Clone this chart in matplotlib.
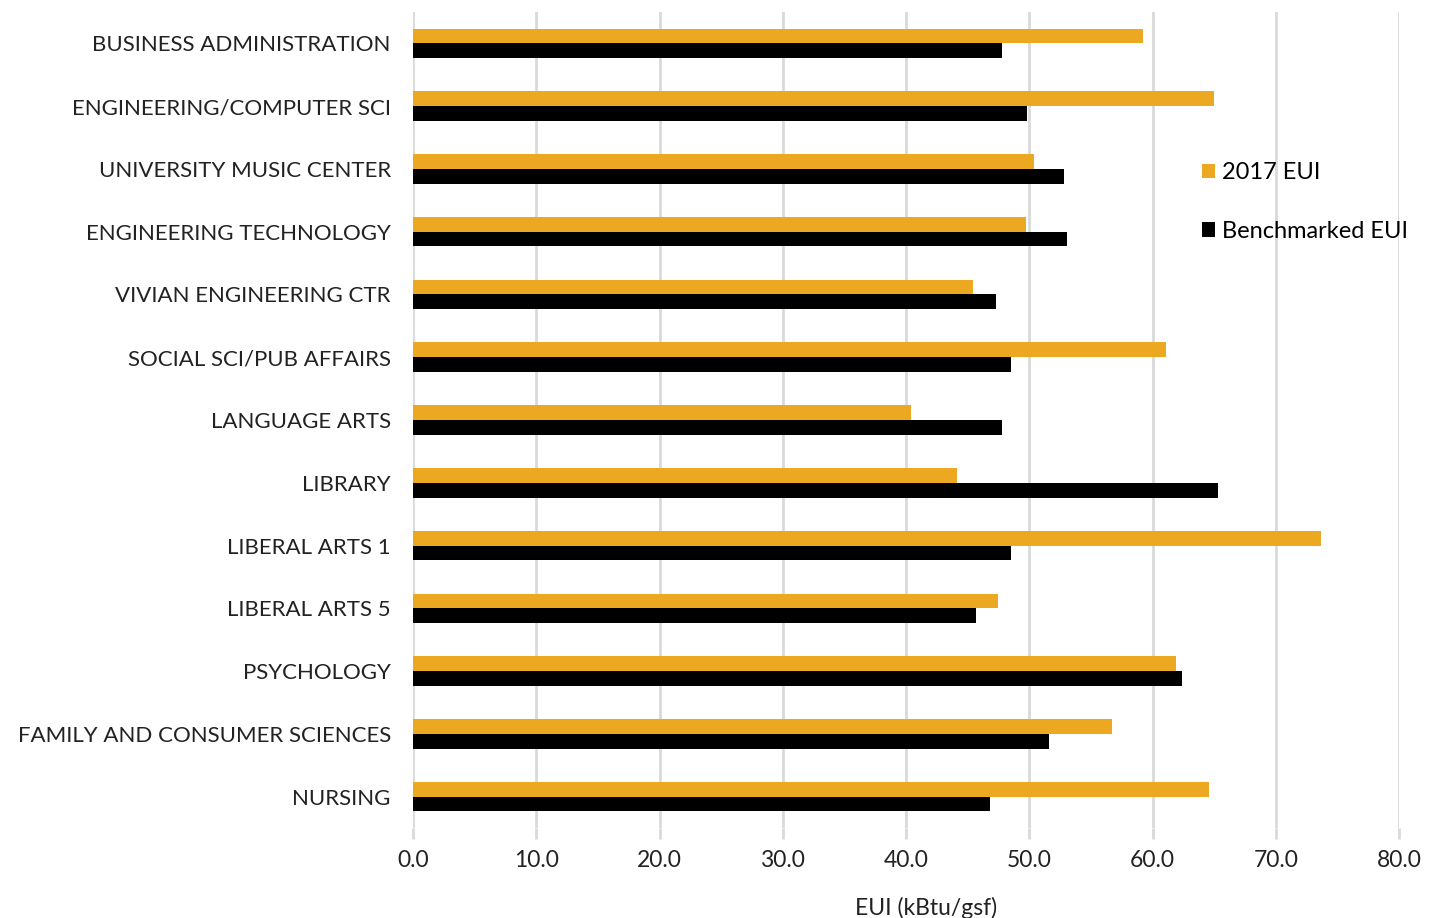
import matplotlib.pyplot as plt
import numpy as np

plt.rcParams['font.family'] = ['Lato', 'DejaVu Sans']

buildings = ['BUSINESS ADMINISTRATION', 'ENGINEERING/COMPUTER SCI', 'UNIVERSITY MUSIC CENTER',
             'ENGINEERING TECHNOLOGY', 'VIVIAN ENGINEERING CTR', 'SOCIAL SCI/PUB AFFAIRS',
             'LANGUAGE ARTS', 'LIBRARY', 'LIBERAL ARTS 1', 'LIBERAL ARTS 5', 'PSYCHOLOGY',
             'FAMILY AND CONSUMER SCIENCES', 'NURSING']
eui_2017 = [59.2, 65.0, 50.4, 49.7, 45.4, 61.1, 40.4, 44.1, 73.7, 47.5, 61.9, 56.7, 64.6]
eui_bench = [47.8, 49.8, 52.8, 53.1, 47.3, 48.5, 47.8, 65.3, 48.5, 45.7, 62.4, 51.6, 46.8]
xticks = [0, 10, 20, 30, 40, 50, 60, 70, 80]

fig = plt.figure(figsize=(14.41, 9.18), dpi=100)
ax = fig.add_axes([413 / 1441, 1 - 828 / 918, (1399 - 413) / 1441, (828 - 12) / 918])

y = np.arange(len(buildings))
h = 0.235
ax.barh(y - h / 2, eui_2017, height=h, color='#EBA820', label='2017 EUI', zorder=3)
ax.barh(y + h / 2, eui_bench, height=h, color='#000000', label='Benchmarked EUI', zorder=3)

ax.set_ylim(len(buildings) - 0.5, -0.5)
ax.set_xlim(0, 80)
ax.set_yticks(y)
ax.set_yticklabels(buildings, fontsize=16, color='#222222')
ax.set_xticks(xticks)
ax.set_xticklabels([f'{v:.1f}' for v in xticks], fontsize=16.5, color='#222222')
ax.tick_params(axis='y', length=0, pad=16)
ax.tick_params(axis='x', length=8, width=2, color='#d9d9d9', pad=8)
ax.grid(axis='x', color='#d9d9d9', linewidth=2, zorder=0)
for s in ax.spines.values():
    s.set_visible(False)

ax.set_xlabel('EUI (kBtu/gsf)', fontsize=16.5, color='#222222')
ax.xaxis.set_label_coords(0.52, -0.084)

ax.legend(loc='upper left', bbox_to_anchor=(0.779, 0.842), frameon=False, fontsize=17,
          handlelength=0.55, handleheight=0.55, handletextpad=0.3, labelspacing=1.6)

fig.savefig('out.png', dpi=100)
